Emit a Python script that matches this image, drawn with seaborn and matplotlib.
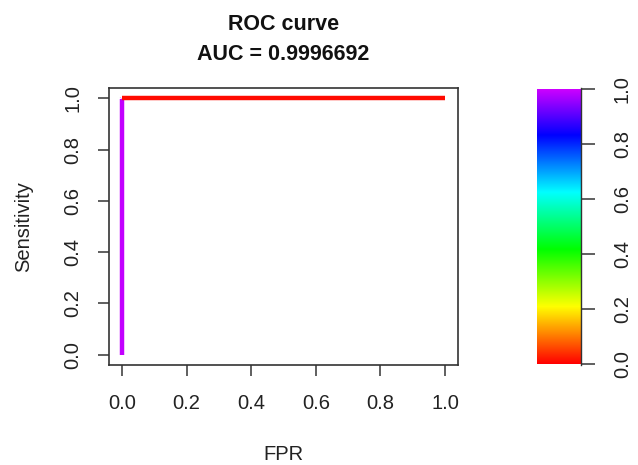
import numpy as np
import pandas as pd
import matplotlib
matplotlib.use("Agg")
import matplotlib.pyplot as plt
from matplotlib.colors import hsv_to_rgb, ListedColormap
import seaborn as sns

# ---- data ----
fpr = [0.0, 0.0, 0.0003, 1.0]
sensitivity = [0.0, 0.999, 1.0, 1.0]
threshold = [0.99, 0.98, 0.01, 0.0]
x_ticks = [0.0, 0.2, 0.4, 0.6, 0.8, 1.0]
y_ticks = [0.0, 0.2, 0.4, 0.6, 0.8, 1.0]
cbar_ticks = [0.0, 0.2, 0.4, 0.6, 0.8, 1.0]
title_line1 = "ROC curve"
title_line2 = "AUC = 0.9996692"

sns.set_theme(style="white")
plt.rcParams["font.family"] = ["Liberation Sans", "DejaVu Sans"]

# R-like rainbow(start=0, end=0.8)
hues = np.linspace(0, 0.8, 256)
cmap = ListedColormap(hsv_to_rgb(np.stack([hues, np.ones(256), np.ones(256)], axis=1)))

W, H = 638, 465
fig = plt.figure(figsize=(W / 100, H / 100), dpi=100)
ax = fig.add_axes([109 / W, 1 - 365 / H, (458 - 109) / W, (365 - 88) / H])

# long-form segments coloured by threshold
rows = []
for i in range(len(fpr) - 1):
    rows.append({"seg": i, "fpr": fpr[i], "sens": sensitivity[i]})
    rows.append({"seg": i, "fpr": fpr[i + 1], "sens": sensitivity[i + 1]})
df = pd.DataFrame(rows)
palette = {i: cmap(threshold[i]) for i in range(len(fpr) - 1)}
sns.lineplot(data=df, x="fpr", y="sens", hue="seg", palette=palette,
             estimator=None, sort=False, legend=False, linewidth=3.2,
             solid_capstyle="butt", ax=ax)

FS = 14.5
ax.set_xlim(-0.04, 1.04)
ax.set_ylim(-0.04, 1.04)
ax.set_xticks(x_ticks)
ax.set_xticklabels([f"{v:.1f}" for v in x_ticks])
ax.set_yticks(y_ticks)
ax.set_yticklabels([f"{v:.1f}" for v in y_ticks], rotation=90, va="center")
ax.tick_params(axis="both", direction="out", length=8, width=1.2,
               color="#444444", labelsize=FS, labelcolor="#222222")
ax.tick_params(axis="x", pad=13, bottom=True)
ax.tick_params(axis="y", pad=11, left=True)
for s in ax.spines.values():
    s.set_visible(True)
    s.set_color("#333333")
    s.set_linewidth(1.2)
ax.set_xlabel("FPR", fontsize=FS, color="#222222", labelpad=23)
ax.set_ylabel("Sensitivity", fontsize=FS, color="#222222", labelpad=22)

fig.text(283.5 / W, 1 - 24 / H, title_line1, ha="center", va="center",
         fontsize=15.5, fontweight="bold", color="#111111")
fig.text(283.5 / W, 1 - 55 / H, title_line2, ha="center", va="center",
         fontsize=15.5, fontweight="bold", color="#111111")

# colour bar
cax = fig.add_axes([537 / W, 1 - 365 / H, (581 - 537) / W, (365 - 88) / H])
grad = np.linspace(0, 1, 256).reshape(-1, 1)
cax.imshow(grad, cmap=cmap, aspect="auto", origin="lower", extent=[0, 1, 0, 1])
cax.set_xlim(0, 1)
cax.set_ylim(-0.005, 1.005)
cax.set_xticks([])
cax.yaxis.tick_right()
cax.set_yticks(cbar_ticks)
cax.set_yticklabels([f"{v:.1f}" for v in cbar_ticks], rotation=90, va="center")
cax.tick_params(axis="y", right=True, left=False, direction="out", length=10,
                width=1.2, color="#444444", labelsize=FS,
                labelcolor="#222222", pad=13)
for name, s in cax.spines.items():
    s.set_visible(name == "right")
cax.spines["right"].set_color("#333333")
cax.spines["right"].set_linewidth(1.0)

fig.savefig("out.png", dpi=100)
